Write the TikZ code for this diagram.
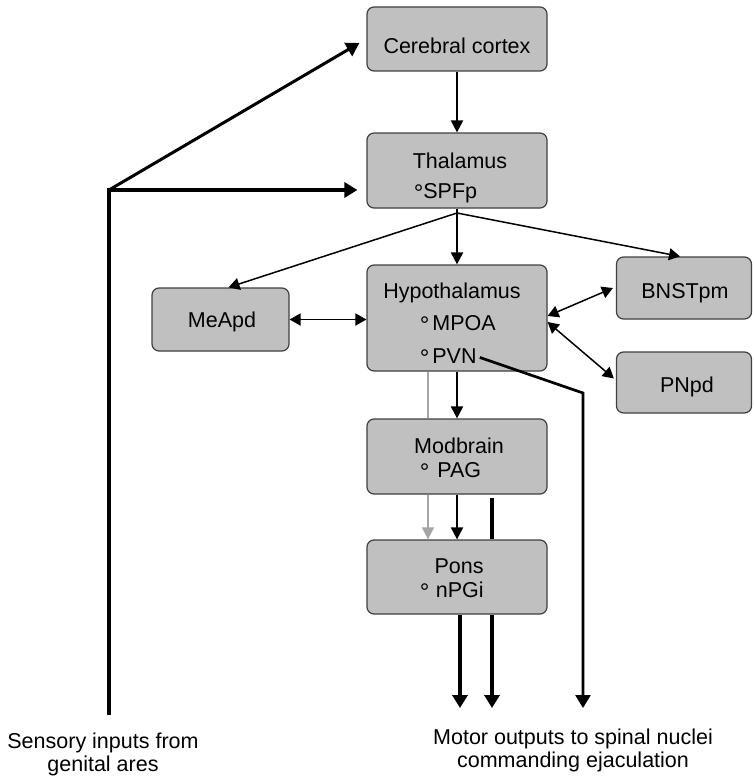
\documentclass[tikz,border=0pt]{standalone}
\usepackage{fontspec}
\setmainfont{Liberation Sans}
\usetikzlibrary{arrows.meta}
\definecolor{boxgray}{HTML}{C0C0C0}
\definecolor{edgegray}{HTML}{404040}
\definecolor{pathgray}{HTML}{A6A6A6}
\newcommand{\subring}{\raisebox{-3.7pt}{\fontsize{24pt}{24pt}\selectfont°}}

\begin{document}
\begin{tikzpicture}[x=1pt,y=-1pt,
    region/.style={rectangle,rounded corners=7pt,fill=boxgray,draw=edgegray,line width=1.2pt,inner sep=0pt},
    txt/.style={inner sep=0pt,font=\fontsize{21.5pt}{24pt}\selectfont},
    conn/.style={line width=2pt,-{Triangle[length=12pt,width=12pt]}},
    fanline/.style={line width=1.5pt,-{Triangle[length=11pt,width=12pt]}},
    both/.style={line width=1.8pt,{Triangle[length=11pt,width=12pt]}-{Triangle[length=11pt,width=12pt]}},
    heavy/.style={line width=3.5pt},
    heavyarr/.style={heavy,-{Triangle[length=13pt,width=15pt]}}]
    \useasboundingbox (0,0) rectangle (753,776);

            % boxes
            \node (cortex) at (457,39) [region,minimum width=180pt,minimum height=64pt] {};
            \node (thal) at (457,170.5) [region,minimum width=180pt,minimum height=75pt] {};
            \node (hyp) at (457,318) [region,minimum width=180pt,minimum height=106pt] {};
            \node (meapd) at (220.5,319.5) [region,minimum width=137pt,minimum height=63pt] {};
            \node (bnst) at (684,288) [region,minimum width=135pt,minimum height=62pt] {};
            \node (pnpd) at (684,382.5) [region,minimum width=135pt,minimum height=61pt] {};
            \node (mid) at (457,456.5) [region,minimum width=180pt,minimum height=75pt] {};
            \node (pons) at (457,577) [region,minimum width=180pt,minimum height=74pt] {};

            % texts
            \node (cortexname) at (457,53) [txt,anchor=base] {Cerebral cortex};
            \node (thalname) at (460,168) [txt,anchor=base] {Thalamus};
            \node (spfp) at (413.6,198) [txt,anchor=base west] {\subring SPFp};
            \node (hypname) at (452,298) [txt,anchor=base] {Hypothalamus};
            \node (mpoa) at (419.6,330) [txt,anchor=base west] {\subring\hspace{3pt}MPOA};
            \node (pvn) at (419.6,363) [txt,anchor=base west] {\subring\hspace{3pt}PVN};
            \node (meapdname) at (222,327) [txt,anchor=base] {MeApd};
            \node (bnstname) at (685,298) [txt,anchor=base] {BNSTpm};
            \node (pnpdname) at (687,392) [txt,anchor=base] {PNpd};
            \node (midname) at (459,453) [txt,anchor=base] {Modbrain};
            \node (pag) at (419.6,477) [txt,anchor=base west] {\subring\hspace{8pt}PAG};
            \node (ponsname) at (459,573) [txt,anchor=base] {Pons};
            \node (npgi) at (419.6,597) [txt,anchor=base west] {\subring\hspace{6.5pt}nPGi};
            \node (sensory) at (103,732.5) [txt,anchor=north,align=center,font=\fontsize{21.5pt}{23.5pt}\selectfont] {Sensory inputs from\\genital ares};
            \node (motor) at (573,729) [txt,anchor=north,align=center,font=\fontsize{21.5pt}{22.5pt}\selectfont] {Motor outputs to spinal nuclei\\commanding ejaculation};

            \coordinate (sens) at (109,715);
            \coordinate (branch) at (109,190);
            \coordinate (fan) at (457,213);
            \coordinate (pvnbend) at (583,393);
            \coordinate (pvnout) at (583,708);
            \coordinate (out1) at (460,708);
            \coordinate (out2) at (492,708);

            % sensory input
            \draw[heavyarr] (sens) -- (branch) -- ([xshift=-9pt]branch -| thal.west);
            \draw[heavyarr,line width=3pt] (branch) -- ([xshift=-7pt,yshift=-4pt]cortex.west);

            % forebrain
            \draw[conn] (cortex) -- (thal);
            \draw[conn] (thal) -- (hyp);
            \draw[fanline] (fan) -- ([xshift=8pt]meapd.north);
            \draw[fanline] (fan) -- ([xshift=-4pt]bnst.north);
            \draw[both] (meapd.east) -- (meapd.east -| hyp.west);
            \draw[both,line width=1.5pt] ([yshift=2pt]hyp.east) -- ([xshift=-3pt]bnst.west);
            \draw[both,line width=1.5pt] ([yshift=-4pt]hyp.east) -- ([xshift=-2pt,yshift=4pt]pnpd.west);

            % descending paths
            \draw[heavyarr,line width=2.7pt] ([xshift=3pt]pvn.east) -- (pvnbend) -- (pvnout);
            \draw[conn] (hyp) -- (mid);
            \draw[pathgray,line width=1.5pt] ([xshift=-29pt]hyp.south) -- ([xshift=-29pt]mid.north);
            \draw[conn,pathgray,line width=1.5pt] ([xshift=-29pt]mid.south) -- ([xshift=-29pt]pons.north);
            \draw[conn] (mid) -- (pons);
            \draw[heavy,shorten <=3pt] ([xshift=35pt]mid.south) -- ([xshift=35pt]pons.north);
            \draw[heavyarr] ([xshift=3pt]pons.south) -- (out1);
            \draw[heavyarr] ([xshift=35pt]pons.south) -- (out2);
        \end{tikzpicture}
\end{document}
